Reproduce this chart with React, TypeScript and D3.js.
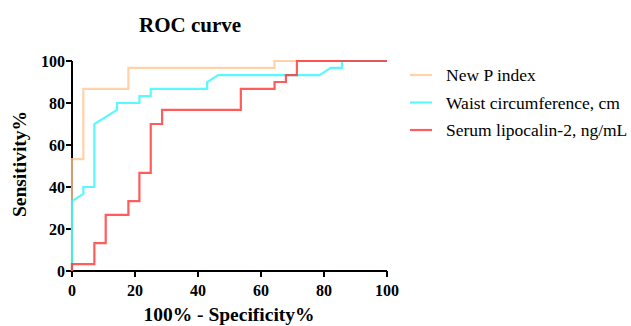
import React from "react";
import * as d3 from "d3";

const xTicks = [0, 20, 40, 60, 80, 100];
const yTicks = [0, 20, 40, 60, 80, 100];

const seriesNames = ["New P index", "Waist circumference, cm", "Serum lipocalin-2, ng/mL"];
const seriesColors = ["#ffc793", "#2ff8ff", "#ff3333"];

const newPIndex: [number, number][] = [
  [0, 0], [0, 53.3], [3.6, 53.3], [3.6, 86.7], [17.9, 86.7], [17.9, 96.7],
  [64.3, 96.7], [64.3, 100], [100, 100],
];
const waist: [number, number][] = [
  [0, 0], [0, 33.3], [3.6, 36.7], [3.6, 40], [7.1, 40], [7.1, 70], [14.3, 76.7],
  [14.3, 80], [21.4, 80], [21.4, 83.3], [25, 83.3], [25, 86.7], [42.9, 86.7],
  [42.9, 90], [46.4, 93.3], [78.6, 93.3], [82.1, 96.7], [85.7, 96.7], [85.7, 100], [100, 100],
];
const lipocalin: [number, number][] = [
  [0, 0], [0, 3.3], [7.1, 3.3], [7.1, 13.3], [10.7, 13.3], [10.7, 26.7], [17.9, 26.7],
  [17.9, 33.3], [21.4, 33.3], [21.4, 46.7], [25, 46.7], [25, 70], [28.6, 70],
  [28.6, 76.7], [53.6, 76.7], [53.6, 86.7], [64.3, 86.7], [64.3, 90], [67.9, 90],
  [67.9, 93.3], [71.4, 93.3], [71.4, 100], [100, 100],
];
const seriesData = [newPIndex, waist, lipocalin];

export default function App() {
  const W = 631, H = 326;
  const x = d3.scaleLinear().domain([0, 100]).range([72, 387]);
  const y = d3.scaleLinear().domain([0, 100]).range([271, 61]);
  const line = d3.line<[number, number]>().x(d => x(d[0])).y(d => y(d[1]));
  const fs = { fontFamily: '"Liberation Serif", "DejaVu Serif", serif' };

  return (
    <svg width={W} height={H} style={{ position: "absolute", left: 0, top: 0, ...fs }}>
      <rect width={W} height={H} fill="#fff" />
      <text style={fs} x={190} y={32} textAnchor="middle" fontWeight="bold" fontSize={21}>ROC curve</text>

      {/* axes */}
      <line x1={x(0)} x2={x(100)} y1={y(0)} y2={y(0)} stroke="#000" strokeWidth={2} />
      <line x1={x(0)} x2={x(0)} y1={y(0) + 1} y2={y(100)} stroke="#000" strokeWidth={2} />
      {xTicks.map(t => (
        <g key={"x" + t}>
          <line x1={x(t)} x2={x(t)} y1={y(0)} y2={y(0) + 6} stroke="#000" strokeWidth={2} />
          <text style={fs} x={x(t)} y={296} textAnchor="middle" fontWeight="bold" fontSize={16}>{t}</text>
        </g>
      ))}
      {yTicks.map(t => (
        <g key={"y" + t}>
          <line x1={x(0) - 6} x2={x(0)} y1={y(t)} y2={y(t)} stroke="#000" strokeWidth={2} />
          <text style={fs} x={x(0) - 7} y={y(t) + 5.5} textAnchor="end" fontWeight="bold" fontSize={16}>{t}</text>
        </g>
      ))}
      <text style={fs} x={229} y={321} textAnchor="middle" fontWeight="bold" fontSize={19.5}>100% - Specificity%</text>
      <text style={fs} transform={`translate(26,164) rotate(-90)`} textAnchor="middle" fontWeight="bold" fontSize={19.5}>Sensitivity%</text>

      {/* curves */}
      {seriesData.map((d, i) => (
        <path key={i} d={line(d) || ""} fill="none" stroke={seriesColors[i]} strokeWidth={2.2} strokeOpacity={0.8} />
      ))}

      {/* legend */}
      {seriesNames.map((n, i) => {
        const ly = 75 + i * 27.5;
        return (
          <g key={n}>
            <line x1={410} x2={432} y1={ly} y2={ly} stroke={seriesColors[i]} strokeWidth={2.2} strokeOpacity={0.8} />
            <text style={fs} x={446} y={ly + 6} fontSize={17.5}>{n}</text>
          </g>
        );
      })}
    </svg>
  );
}
